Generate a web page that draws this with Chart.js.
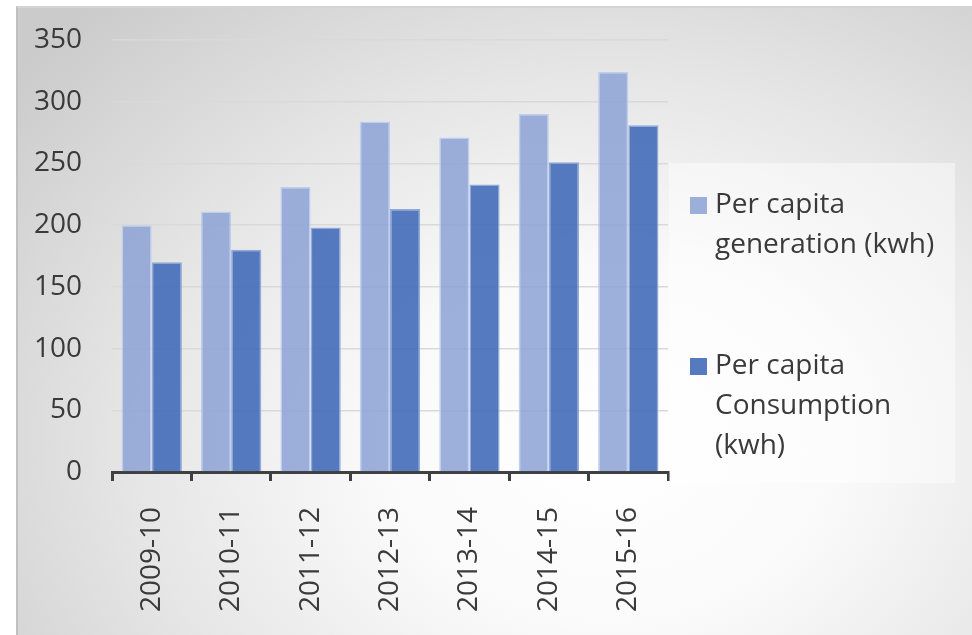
<!DOCTYPE html>
<html>
<head>
<meta charset="utf-8">
<script src="https://cdn.jsdelivr.net/npm/chart.js@4"></script>
<style>
  html, body { margin: 0; padding: 0; background: #fff; }
  body { width: 972px; height: 635px; position: relative; overflow: hidden; }
  #panel {
    position: absolute; left: 16px; top: 6px; width: 956px; height: 629px;
    box-sizing: border-box;
    border-top: 2px solid #d4d4d4; border-left: 2px solid #c0c0c0;
    background: radial-gradient(ellipse 760px 600px at 590px 440px, #ffffff 0%, #fafafa 30%, #e6e6e6 62%, #cbcbcb 100%);
  }
  #wrap { position: absolute; left: 0; top: 0; width: 972px; height: 635px; }
</style>
</head>
<body>
<div id="panel"></div>
<div id="wrap"><canvas id="chart" width="972" height="635"></canvas></div>
<script>
// ─── Data ─────────────────────────────────────────────────────────────────────
const years = ['2009-10', '2010-11', '2011-12', '2012-13', '2013-14', '2014-15', '2015-16'];
const generation = [200, 211, 231, 284, 271, 290, 324];
const consumption = [170, 180, 198, 213, 233, 251, 281];
const seriesNames = [
    ['Per capita', 'generation (kwh)'],
    ['Per capita', 'Consumption', '(kwh)']
];
const yTicks = [0, 50, 100, 150, 200, 250, 300, 350];

const FONT = '"Open Sans", sans-serif';
const TEXT = '#3a3a3a';

// ─── Custom right-hand legend (wrapped text, Office style) ───────────────────
const sideLegend = {
    id: 'sideLegend',
    afterDraw(chart) {
        const ctx = chart.ctx;
        const area = chart.chartArea;
        const left = area.right + 1;
        ctx.save();
        ctx.fillStyle = 'rgba(255,255,255,0.45)';
        ctx.fillRect(left, 163, 955 - left, 320);

        ctx.font = '28px ' + FONT;
        ctx.textBaseline = 'middle';
        const starts = [205, 366];
        chart.data.datasets.forEach((ds, i) => {
            const y0 = starts[i];
            ctx.fillStyle = ds.backgroundColor;
            ctx.fillRect(690, y0 - 8, 17, 17);
            ctx.fillStyle = TEXT;
            seriesNames[i].forEach((line, j) => {
                ctx.fillText(line, 715, y0 + j * 40);
            });
        });
        ctx.restore();
    }
};

new Chart(document.getElementById('chart'), {
    type: 'bar',
    data: {
        labels: years,
        datasets: [{
            label: seriesNames[0].join(' '),
            data: generation,
            backgroundColor: 'rgba(140,162,214,0.85)',
            borderColor: 'rgba(190,204,238,0.95)',
            borderWidth: 1.5,
            categoryPercentage: 0.76,
            barPercentage: 1.0
        }, {
            label: seriesNames[1].join(' '),
            data: consumption,
            backgroundColor: 'rgba(68,108,184,0.9)',
            borderColor: 'rgba(140,165,215,0.95)',
            borderWidth: 1.5,
            categoryPercentage: 0.76,
            barPercentage: 1.0
        }]
    },
    options: {
        responsive: false,
        animation: false,
        layout: { padding: { top: 40, right: 304, left: 0, bottom: 0 } },
        plugins: {
            legend: { display: false },
            tooltip: { enabled: false }
        },
        scales: {
            y: {
                min: 0,
                max: 350,
                afterBuildTicks: s => { s.ticks = yTicks.map(v => ({ value: v })); },
                afterFit: s => { s.width = 112; s.paddingTop = 0; s.paddingBottom = 0; },
                ticks: {
                    color: TEXT,
                    font: { family: FONT, size: 28 },
                    padding: 30
                },
                grid: { color: '#d9d9d9', lineWidth: 1.5, drawTicks: false },
                border: { display: false }
            },
            x: {
                afterFit: s => { s.height = 163; s.paddingLeft = 0; s.paddingRight = 0; },
                ticks: {
                    color: TEXT,
                    font: { family: FONT, size: 28 },
                    minRotation: 90,
                    maxRotation: 90,
                    padding: 26
                },
                grid: {
                    drawOnChartArea: false,
                    drawTicks: true,
                    tickLength: 9,
                    color: '#404040',
                    lineWidth: 3
                },
                border: { display: true, color: '#404040', width: 3 }
            }
        }
    },
    plugins: [sideLegend]
});
</script>
</body>
</html>
